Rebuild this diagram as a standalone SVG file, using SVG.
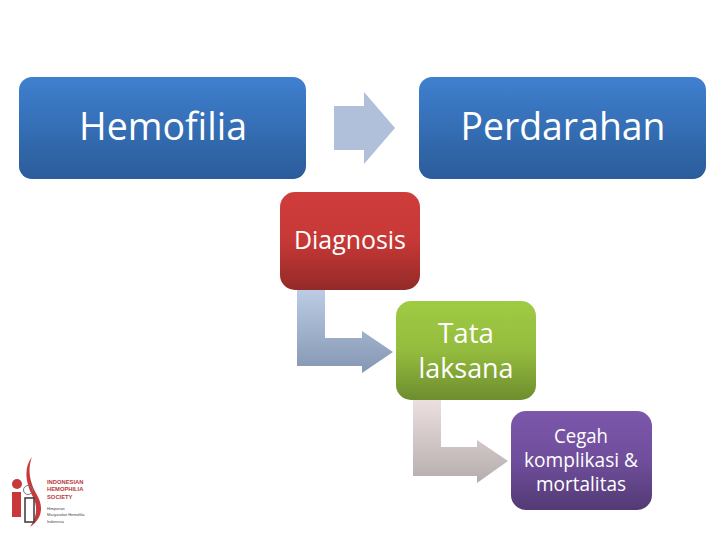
<svg xmlns="http://www.w3.org/2000/svg" width="720" height="540" viewBox="0 0 720 540">
<style>
text{font-family:"Open Sans","Noto Sans","Liberation Sans",sans-serif;fill:#fff;text-anchor:middle}
.a{font-size:38px}.b{font-size:25px}.c{font-size:28px}.d{font-size:19.5px}
.l{font-family:"Liberation Sans",Arial,sans-serif;text-anchor:start}
.lr{font-size:5.8px;font-weight:bold;fill:#b8393a}
.lk{font-size:3.9px;fill:#444}
</style>
<defs>
<linearGradient id="blue" x1="0" y1="0" x2="0" y2="1"><stop offset="0" stop-color="#3f80cf"/><stop offset="1" stop-color="#2a5c9a"/></linearGradient>
<linearGradient id="red" x1="0" y1="0" x2="0" y2="1"><stop offset="0" stop-color="#cf3d3b"/><stop offset="0.5" stop-color="#c63836"/><stop offset="1" stop-color="#932a28"/></linearGradient>
<linearGradient id="green" x1="0" y1="0" x2="0" y2="1"><stop offset="0" stop-color="#9fcb43"/><stop offset="0.5" stop-color="#94bc3e"/><stop offset="1" stop-color="#6e8d2e"/></linearGradient>
<linearGradient id="purple" x1="0" y1="0" x2="0" y2="1"><stop offset="0" stop-color="#7c57ab"/><stop offset="0.5" stop-color="#6f4e9b"/><stop offset="1" stop-color="#533a75"/></linearGradient>
<linearGradient id="ar2" gradientUnits="userSpaceOnUse" x1="0" y1="290" x2="0" y2="373"><stop offset="0" stop-color="#bccce4"/><stop offset="1" stop-color="#8496b2"/></linearGradient>
<linearGradient id="ar3" gradientUnits="userSpaceOnUse" x1="0" y1="400" x2="0" y2="483"><stop offset="0" stop-color="#ecdfe0"/><stop offset="1" stop-color="#b5adad"/></linearGradient>
</defs>
<rect width="720" height="540" fill="#fff"/>
<g id="connectors">
<polygon points="334,106 364,106 364,92 395,128 364,164 364,150 334,150" fill="#b0c0db"/>
<polygon points="297,290 325,290 325,338 362,338 362,331 393,352 362,373 362,366 297,366" fill="url(#ar2)"/>
<polygon points="413,400 441,400 441,447 477,447 477,440 508,461 477,483 477,476 413,476" fill="url(#ar3)"/>
</g>
<g id="node-hemofilia">
<rect x="19" y="77" width="287" height="102" rx="13" fill="url(#blue)"/>
<text class="a" x="163" y="140" textLength="168" lengthAdjust="spacingAndGlyphs">Hemofilia</text>
</g>
<g id="node-perdarahan">
<rect x="419" y="77" width="287" height="102" rx="13" fill="url(#blue)"/>
<text class="a" x="563" y="140" textLength="205" lengthAdjust="spacingAndGlyphs">Perdarahan</text>
</g>
<g id="node-diagnosis">
<rect x="280" y="192" width="140" height="98" rx="15" fill="url(#red)"/>
<text class="b" x="350" y="249" textLength="112" lengthAdjust="spacingAndGlyphs">Diagnosis</text>
</g>
<g id="node-tata-laksana">
<rect x="396" y="301" width="140" height="99" rx="15" fill="url(#green)"/>
<text class="c" x="466" y="343" textLength="56" lengthAdjust="spacingAndGlyphs">Tata</text>
<text class="c" x="466" y="378" textLength="95" lengthAdjust="spacingAndGlyphs">laksana</text>
</g>
<g id="node-cegah">
<rect x="511" y="411" width="141" height="99" rx="15" fill="url(#purple)"/>
<text class="d" x="581" y="443" textLength="54" lengthAdjust="spacingAndGlyphs">Cegah</text>
<text class="d" x="581" y="467" textLength="114" lengthAdjust="spacingAndGlyphs">komplikasi &amp;</text>
<text class="d" x="581" y="491" textLength="90" lengthAdjust="spacingAndGlyphs">mortalitas</text>
</g>
<g id="logo">
<path d="M32 457C27 470 30 483 37 495C44 507 42 519 30 527C37 517 38 507 33 497C26 484 23 468 32 457Z" fill="#c8383a"/>
<circle cx="17" cy="484" r="5" fill="#c8383a"/>
<rect x="12" y="492" width="9" height="25" fill="#c8383a"/>
<circle cx="28" cy="490" r="4.5" fill="none" stroke="#777" stroke-width="1"/>
<rect x="25" y="498" width="9" height="24" fill="#fff" stroke="#444" stroke-width="1.6"/>
<text class="l lr" x="47" y="484">INDONESIAN</text>
<text class="l lr" x="47" y="491">HEMOPHILIA</text>
<text class="l lr" x="47" y="499">SOCIETY</text>
<text class="l lk" x="47" y="510">Himpunan</text>
<text class="l lk" x="47" y="516">Masyarakat Hemofilia</text>
<text class="l lk" x="47" y="523">Indonesia</text>
</g>
</svg>
